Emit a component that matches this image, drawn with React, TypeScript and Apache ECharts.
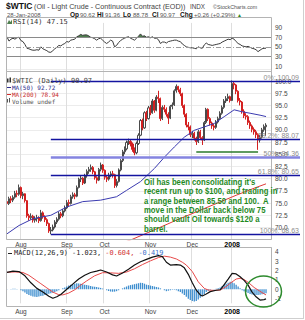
import React, { useEffect, useRef } from 'react';
import * as echarts from 'echarts';

// ---------- trading calendar (categories) ----------
const START = '2007-07-23';
const END = '2008-01-28';
const HOLIDAYS = ['2007-09-03', '2007-11-22', '2007-12-25', '2008-01-01', '2008-01-21'];
function tradingDays(start: string, end: string, holidays: string[]): string[] {
  const out: string[] = [];
  const d = new Date(start + 'T00:00:00Z');
  const e = new Date(end + 'T00:00:00Z');
  while (d <= e) {
    const s = d.toISOString().slice(0, 10);
    const wd = d.getUTCDay();
    if (wd !== 0 && wd !== 6 && !holidays.includes(s)) out.push(s);
    d.setUTCDate(d.getUTCDate() + 1);
  }
  return out;
}
const dates = tradingDays(START, END, HOLIDAYS); // 131 sessions
const categories = [...dates, '', '']; // right-hand blank space
const MONTHS = ['Jan', 'Feb', 'Mar', 'Apr', 'May', 'Jun', 'Jul', 'Aug', 'Sep', 'Oct', 'Nov', 'Dec'];

// ---------- price: [open, close, low, high] ----------
const ohlc: number[][] = [
  [75.3, 74.9, 74.3, 75.8], [74.9, 75.9, 74.6, 76.3], [75.9, 75.6, 75.0, 76.4], [75.6, 76.2, 75.2, 76.6],
  [76.2, 77.0, 75.9, 77.5], [77.0, 76.8, 76.2, 77.6], [76.8, 78.2, 76.5, 78.8], [78.2, 76.5, 76.0, 78.4],
  [76.5, 76.9, 75.8, 77.3], [76.9, 75.5, 75.1, 77.0], [75.5, 72.4, 72.0, 75.6], [72.4, 72.0, 71.4, 72.8],
  [72.0, 72.3, 71.6, 72.9], [72.3, 71.5, 71.0, 72.6], [71.5, 71.8, 71.0, 72.3], [71.8, 72.0, 71.2, 72.6],
  [72.0, 71.4, 70.9, 72.3], [71.4, 73.0, 71.2, 73.6], [73.0, 72.2, 71.8, 73.3], [72.2, 71.6, 71.1, 72.5],
  [71.6, 70.8, 70.3, 71.9], [70.8, 69.3, 68.9, 71.0], [69.3, 69.5, 68.63, 70.1], [69.5, 70.1, 69.2, 70.6],
  [70.1, 71.1, 69.8, 71.5], [71.1, 71.7, 70.7, 72.1], [71.7, 72.8, 71.4, 73.2], [72.8, 72.4, 71.9, 73.2],
  [72.4, 73.4, 72.1, 73.8], [73.4, 74.0, 73.1, 74.5], [74.0, 75.1, 73.8, 75.6], [75.1, 74.9, 74.3, 75.7],
  [74.9, 76.3, 74.7, 76.7], [76.3, 76.7, 75.9, 77.2], [76.7, 76.4, 75.8, 77.1], [76.4, 78.2, 76.2, 78.6],
  [78.2, 79.9, 78.0, 80.2], [79.9, 80.1, 79.3, 80.6], [80.1, 79.1, 78.7, 80.3], [79.1, 80.6, 78.9, 81.0],
  [80.6, 81.5, 80.2, 81.9], [81.5, 81.9, 81.0, 82.4], [81.9, 82.3, 81.4, 82.9], [82.3, 81.4, 80.9, 82.6],
  [81.4, 80.2, 79.8, 81.6], [80.2, 79.7, 79.0, 80.5], [79.7, 81.9, 79.5, 82.2], [81.9, 82.8, 81.5, 83.3],
  [82.8, 81.7, 81.2, 83.0], [81.7, 80.3, 79.8, 81.9], [80.3, 79.9, 79.3, 80.7], [79.9, 80.7, 79.6, 81.2],
  [80.7, 81.0, 80.3, 81.5], [81.0, 80.8, 80.2, 81.6], [80.8, 78.6, 78.1, 81.0], [78.6, 79.4, 78.2, 79.9],
  [79.4, 81.8, 79.2, 82.1], [81.8, 83.7, 81.5, 84.0], [83.7, 85.5, 83.4, 85.9], [85.5, 86.1, 85.0, 86.6],
  [86.1, 87.4, 85.8, 87.8], [87.4, 87.6, 86.9, 88.2], [87.6, 87.1, 86.6, 88.0], [87.1, 86.0, 85.5, 87.4],
  [86.0, 85.3, 84.8, 86.4], [85.3, 87.2, 85.0, 87.6], [87.2, 88.9, 86.9, 89.3], [88.9, 91.9, 88.7, 92.2],
  [91.9, 90.4, 89.9, 92.3], [90.4, 93.5, 90.2, 93.8], [93.5, 92.3, 91.8, 93.9], [92.3, 94.5, 92.1, 94.9],
  [94.5, 93.5, 93.0, 95.1], [93.5, 95.9, 93.3, 96.3], [95.9, 94.0, 93.5, 96.1], [94.0, 96.7, 93.8, 97.1],
  [96.7, 96.4, 95.5, 98.0], [96.4, 92.3, 91.8, 96.6], [92.3, 94.6, 92.0, 95.0], [94.6, 94.2, 93.6, 95.1],
  [94.2, 93.2, 92.7, 94.6], [93.2, 92.4, 91.2, 93.6], [92.4, 94.8, 92.2, 95.1], [94.8, 95.1, 94.2, 95.6],
  [95.1, 98.0, 94.9, 98.3], [98.0, 98.9, 97.6, 99.3], [98.9, 98.2, 97.7, 99.0], [98.2, 97.4, 96.9, 98.6],
  [97.4, 95.0, 94.5, 97.6], [95.0, 93.2, 92.6, 95.2], [93.2, 91.0, 90.5, 93.4], [91.0, 90.6, 89.9, 91.6],
  [90.6, 89.0, 88.5, 90.9], [89.0, 89.3, 88.3, 89.8], [89.3, 88.3, 87.8, 89.6], [88.3, 87.6, 86.9, 88.6],
  [87.6, 89.6, 87.3, 90.0], [89.6, 88.4, 87.9, 90.0], [88.4, 87.9, 86.9, 88.7], [87.9, 91.5, 87.7, 91.8],
  [91.5, 94.2, 91.2, 94.5], [94.2, 92.3, 91.8, 94.4], [92.3, 91.4, 90.9, 92.6], [91.4, 90.8, 90.2, 91.7],
  [90.8, 90.5, 89.9, 91.2], [90.5, 91.6, 90.2, 92.0], [91.6, 92.3, 91.3, 92.7], [92.3, 93.4, 92.0, 93.8],
  [93.4, 94.6, 93.1, 95.0], [94.6, 95.9, 94.3, 96.3], [95.9, 96.4, 95.5, 96.9], [96.4, 96.8, 95.9, 97.4],
  [96.8, 96.0, 95.6, 97.0], [96.0, 99.5, 95.9, 100.09], [99.5, 99.2, 98.3, 100.0], [99.2, 97.9, 97.3, 99.4],
  [97.9, 96.0, 95.6, 98.1], [96.0, 95.7, 95.0, 96.5], [95.7, 93.8, 93.3, 95.9], [93.8, 92.9, 92.4, 94.2],
  [92.9, 92.7, 92.1, 93.4], [92.7, 91.5, 91.0, 93.0], [91.5, 90.8, 90.2, 91.9], [90.8, 90.1, 89.5, 91.1],
  [90.1, 89.6, 89.0, 90.5], [89.6, 89.0, 88.3, 90.0], [89.0, 87.9, 85.9, 89.3], [87.9, 88.5, 87.4, 89.0],
  [88.5, 90.0, 88.2, 90.4], [90.0, 90.7, 89.6, 91.1], [90.62, 90.97, 88.78, 91.36],
];

// moving averages: [session index, value]
const ma50Pts: number[][] = [
  [0, 68.7], [6, 70.4], [13, 71.8], [22, 72.5], [30, 74.2], [38, 75.3], [47, 75.6], [55, 76.3], [60, 77.6],
  [67, 79.4], [74, 82.1], [79, 84.4], [84, 86.5], [89, 88.5], [94, 89.9], [99, 90.6], [104, 91.3],
  [109, 92.7], [114, 94.1], [118, 93.7], [122, 93.4], [127, 93.0], [130, 92.72],
];
const ma200Pts: number[][] = [
  [55, 66.4], [63, 67.6], [75, 69.7], [85, 71.5], [95, 73.2], [105, 74.9], [115, 76.6], [125, 78.2], [130, 78.94],
];

// RSI(14)
const rsi: number[] = [
  71, 62, 66, 68, 66, 69, 70, 63, 61, 55, 47, 46, 44, 43, 43, 44, 43, 50, 46, 44,
  42, 39, 38.6, 42, 46, 49, 53, 52, 55, 57, 61, 60, 64, 65, 66, 71, 73, 76, 74, 75,
  75, 73, 70, 69, 67, 64, 67, 68, 64, 60, 57, 60, 64, 62, 50, 53, 59, 63, 66, 68,
  70, 71, 68, 66, 64, 68, 72, 77, 72, 73, 70, 71, 69, 71, 68, 68, 65, 57, 60, 60,
  58, 61, 62, 63, 64, 64, 62, 61, 56, 53, 50, 49, 48, 48, 47, 46, 50, 48, 47, 54,
  58, 55, 54, 53, 54, 55, 56, 57, 60, 62, 64, 66, 65, 68, 66, 61, 57, 55, 52, 51,
  50, 51, 49, 47, 46, 44, 40, 43, 46, 47, 47.15,
];

// MACD(12,26,9)
const macdPts: number[][] = [
  [0, 1.82], [3, 1.95], [6, 1.9], [9, 1.45], [12, 0.7], [15, 0.1], [18, -0.3], [21, -0.75], [23, -0.96],
  [25, -0.8], [27, -0.55], [30, 0.0], [33, 0.55], [36, 1.1], [39, 1.5], [42, 1.8], [45, 1.95], [47, 2.07],
  [50, 1.85], [53, 1.55], [55, 1.43], [58, 1.75], [61, 2.15], [64, 2.6], [67, 2.95], [70, 3.2], [73, 3.45],
  [76, 3.6], [78, 3.5], [80, 2.9], [82, 2.6], [85, 2.65], [87, 2.6], [89, 2.3], [91, 1.6], [93, 0.7],
  [95, -0.1], [97, -0.6], [98, -0.72], [100, -0.5], [102, -0.25], [105, -0.1], [107, -0.05], [109, 0.5],
  [111, 1.1], [113, 1.71], [115, 1.65], [117, 1.35], [119, 0.95], [121, 0.45], [123, -0.3], [125, -0.8],
  [127, -1.15], [129, -1.1], [130, -1.023],
];
const signalPts: number[][] = [
  [0, 1.82], [4, 1.86], [8, 1.8], [11, 1.5], [14, 1.05], [17, 0.6], [20, 0.15], [23, -0.3], [26, -0.58],
  [28, -0.6], [31, -0.4], [34, -0.05], [37, 0.45], [40, 0.9], [44, 1.45], [48, 1.78], [52, 1.76], [56, 1.71],
  [60, 1.85], [64, 2.2], [68, 2.65], [72, 3.05], [76, 3.4], [79, 3.55], [82, 3.45], [85, 3.25], [88, 2.9],
  [90, 2.6], [93, 1.9], [96, 0.8], [99, 0.1], [101, -0.08], [104, -0.12], [107, -0.08], [110, 0.3],
  [112, 0.64], [115, 1.1], [117, 1.18], [119, 1.05], [121, 0.75], [124, 0.2], [126, -0.08], [128, -0.35],
  [130, -0.604],
];
const histogram: number[] = [
  0.02, 0.0, 0.04, 0.06, 0.05, 0.03, 0.01,
  -0.1, -0.2, -0.35, -0.5, -0.6, -0.7,
  -0.78, -0.8, -0.82, -0.78, -0.72, -0.68, -0.62, -0.55,
  -0.48, -0.42, -0.36, -0.28, -0.2, -0.1, 0.0,
  0.1, 0.2, 0.3, 0.4, 0.5, 0.55, 0.6, 0.64, 0.62, 0.6, 0.55, 0.5, 0.45,
  0.4, 0.35, 0.3, 0.28, 0.25, 0.2, 0.15, 0.08,
  0.0, -0.1, -0.18, -0.24, -0.26, -0.25, -0.2, -0.1,
  0.0, 0.1, 0.2, 0.3, 0.4, 0.45, 0.5, 0.55,
  0.6, 0.65, 0.7, 0.68, 0.6, 0.5, 0.45, 0.4,
  0.35, 0.3, 0.25, 0.2, 0.1, 0.0, -0.1, -0.2,
  -0.15, -0.1, -0.05, -0.05, -0.1, -0.2, -0.3, -0.45,
  -0.6, -0.8, -1.0, -1.15, -1.25, -1.3, -1.25, -1.1,
  -0.9, -0.7, -0.5, -0.3, -0.15, -0.05,
  0.0, 0.02, 0.05, 0.1, 0.2, 0.35,
  0.5, 0.6, 0.7, 0.8, 0.75, 0.65, 0.5, 0.3,
  0.1, -0.1, -0.2, -0.3, -0.4, -0.5, -0.55, -0.6,
  -0.62, -0.6, -0.58, -0.52, -0.47, -0.419,
];

// Fibonacci retracement from the Aug low to the Jan high
const fibLabels = ['0%', '38.2%', '50%', '61.8%', '100%'];
const fibValues = [100.09, 88.07, 84.36, 80.65, 68.63];
const fibAnchorIndex = 22; // session of the swing low
const supportLevel = 85.6;
const supportFrom = 95;
const supportTo = 126;

const noteLines = [
  "Oil has been consolidating it's",
  'recent run up to $100, and trading in',
  'a range between 85.50 and 100.  A',
  'move in the Dollar back below 75',
  'should vault Oil towards $120 a',
  'barrel.',
];

const SANS = '"Liberation Sans", Arial, sans-serif';
const MONO = '"DejaVu Sans Mono", monospace';

const isMonthStart = (i: number) =>
  i > 0 && i < dates.length && dates[i].slice(5, 7) !== dates[i - 1].slice(5, 7);

const monthFormatter = (v: string) => {
  if (!v) return '';
  const m = +v.slice(5, 7);
  return m === 1 ? '{y|' + v.slice(0, 4) + '}' : MONTHS[m - 1];
};

const toNamed = (pts: number[][]) => pts.map(([i, v]) => [dates[i], v]);

const L = 6;
const W = 265;

function xAxisFor(gridIndex: number, showLabels: boolean, margin: number) {
  return {
    type: 'category',
    gridIndex,
    data: categories,
    boundaryGap: true,
    axisLine: { show: false },
    axisTick: { show: false },
    axisLabel: {
      show: showLabels,
      interval: (idx: number) => isMonthStart(idx),
      formatter: monthFormatter,
      margin,
      fontFamily: SANS,
      fontSize: 6.5,
      color: '#444',
      rich: { y: { fontFamily: SANS, fontSize: 7, fontWeight: 'bold', color: '#000' } },
    },
    splitLine: {
      show: true,
      interval: (idx: number) => isMonthStart(idx),
      lineStyle: { color: '#dedede', width: 1 },
    },
  };
}

function yLabel(formatter: (v: number) => string) {
  return { margin: 4, fontFamily: SANS, fontSize: 6.5, color: '#444', formatter };
}

export default function App() {
  const ref = useRef<HTMLDivElement>(null);

  useEffect(() => {
    if (!ref.current) return;
    const chart = echarts.init(ref.current, undefined, { renderer: 'svg' });

    const option: any = {
      animation: false,
      backgroundColor: '#ffffff',
      grid: [
        { left: L, width: W, top: 22.9, height: 47.9 },
        { left: L, width: W, top: 68.8, height: 170.9 },
        { left: L, width: W, top: 247.3, height: 56 },
      ],
      xAxis: [xAxisFor(0, false, 2), xAxisFor(1, true, 1), xAxisFor(2, true, 5)],
      yAxis: [
        {
          type: 'value', gridIndex: 0, position: 'right', min: 0, max: 100, interval: 10,
          axisLine: { show: false }, axisTick: { show: false }, splitLine: { show: false },
          axisLabel: yLabel((v) => (v % 20 === 10 ? String(v) : '')),
        },
        {
          type: 'value', gridIndex: 1, position: 'right', min: 67.5, max: 102.5, interval: 2.5,
          axisLine: { show: false }, axisTick: { show: false },
          splitLine: { show: true, lineStyle: { color: '#ececec' } },
          axisLabel: yLabel((v) => (v >= 70 && v <= 100 ? v.toFixed(1) : '')),
        },
        {
          type: 'value', gridIndex: 2, position: 'right', min: -1.5, max: 4.5, interval: 0.5,
          axisLine: { show: false }, axisTick: { show: false }, splitLine: { show: false },
          axisLabel: yLabel((v) => (Number.isInteger(v) && v < 4.5 ? String(v) : '')),
        },
      ],
      series: [
        {
          type: 'line', xAxisIndex: 0, yAxisIndex: 0, stack: 'rsi', symbol: 'none', silent: true,
          data: rsi.map((v) => Math.min(v, 70)), lineStyle: { opacity: 0 },
        },
        {
          type: 'line', xAxisIndex: 0, yAxisIndex: 0, stack: 'rsi', symbol: 'none', silent: true,
          data: rsi.map((v) => Math.max(v - 70, 0)), lineStyle: { opacity: 0 },
          areaStyle: { color: '#4f7f4f', opacity: 1 },
        },
        {
          type: 'line', xAxisIndex: 0, yAxisIndex: 0, symbol: 'none', data: rsi,
          lineStyle: { color: '#3a3a3a', width: 1 },
          markLine: {
            silent: true, symbol: 'none', label: { show: false },
            data: [
              { yAxis: 70, lineStyle: { color: '#8a8a8a', type: 'solid', width: 1 } },
              { yAxis: 30, lineStyle: { color: '#8a8a8a', type: 'solid', width: 1 } },
              { yAxis: 50, lineStyle: { color: '#9a9a9a', type: [5, 2, 1, 2], width: 1 } },
            ],
          },
        },
        {
          type: 'candlestick', xAxisIndex: 1, yAxisIndex: 1, data: ohlc, barWidth: 1.6,
          itemStyle: {
            color: '#ffffff', color0: '#d42020',
            borderColor: '#4a4a4a', borderColor0: '#d42020', borderWidth: 1,
          },
          markLine: {
            silent: true, symbol: 'none', label: { show: false },
            lineStyle: { color: '#2a7a2a', width: 1.5, type: 'solid' },
            data: [[
              { coord: [dates[supportFrom], supportLevel] },
              { coord: [dates[supportTo], supportLevel] },
            ]],
          },
        },
        {
          type: 'line', xAxisIndex: 1, yAxisIndex: 1, symbol: 'none', data: toNamed(ma50Pts),
          lineStyle: { color: '#3b3bb0', width: 1 },
        },
        {
          type: 'line', xAxisIndex: 1, yAxisIndex: 1, symbol: 'none', data: toNamed(ma200Pts),
          lineStyle: { color: '#e03a3a', width: 1 },
        },
        {
          type: 'bar', xAxisIndex: 2, yAxisIndex: 2, data: histogram, barWidth: 1.3,
          itemStyle: { color: '#3f8fcf' },
        },
        {
          type: 'line', xAxisIndex: 2, yAxisIndex: 2, symbol: 'none', data: toNamed(signalPts),
          lineStyle: { color: '#e84a4a', width: 1 },
        },
        {
          type: 'line', xAxisIndex: 2, yAxisIndex: 2, symbol: 'none', data: toNamed(macdPts),
          lineStyle: { color: '#111111', width: 1.2 },
        },
      ],
    };
    chart.setOption(option);

    // ----- overlay graphics positioned through the price axes -----
    const xLow = chart.convertToPixel({ xAxisIndex: 1 }, dates[fibAnchorIndex]) as number;
    const yOf = (v: number) => chart.convertToPixel({ yAxisIndex: 1 }, v) as number;

    const txt = (text: string, x: number, y: number, font: string, fill: string, extra: any = {}) => {
      const a = extra.align ?? 'left';
      return {
        type: 'text', x, y, silent: true, z: 60,
        scaleX: extra.scaleX ?? 1,
        style: {
          text, x: 0, y: 0, font, fill,
          align: a, verticalAlign: 'middle',
          textAlign: a, textVerticalAlign: 'middle',
        },
      };
    };

    const els: any[] = [];
    // panel frames
    const frame = (y: number, h: number) => ({
      type: 'rect', silent: true, z: 55,
      shape: { x: L + 0.5, y: y + 0.5, width: W, height: h },
      style: { fill: 'none', stroke: '#b4b4b4', lineWidth: 1 },
    });
    els.push(frame(17, 54), frame(71, 168), frame(247, 59));
    els.push({ type: 'line', silent: true, z: 55, shape: { x1: 303.5, y1: 0, x2: 303.5, y2: 318 }, style: { stroke: '#cfcfcf' } });
    els.push({ type: 'line', silent: true, z: 55, shape: { x1: 0, y1: 318.5, x2: 304, y2: 318.5 }, style: { stroke: '#cfcfcf' } });

    // header
    els.push(txt('$WTIC', 6, 6, `bold 8.5px ${SANS}`, '#111'));
    els.push(txt('(Oil - Light Crude - Continuous Contract (EOD))', 34, 6.5, `7.2px ${SANS}`, '#444'));
    els.push(txt('INDX', 190, 6.5, `6.3px ${SANS}`, '#444'));
    els.push(txt('\u00A9StockCharts.com', 213, 6.5, `5.3px ${SANS}`, '#555'));
    els.push(txt('28-Jan-2008', 7, 14.7, `6px ${SANS}`, '#555'));
    const hdr: [string, number, string, number][] = [
      ['Op', 70, '90.62', 80], ['Hi', 97, '91.36', 105], ['Lo', 123, '88.78', 133],
      ['Cl', 152, '90.97', 160], ['Chg', 180, '+0.26 (+0.29%)', 194],
    ];
    hdr.forEach(([k, kx, v, vx]) => {
      els.push(txt(k, kx, 14.7, `bold 6.5px ${SANS}`, '#111'));
      els.push(txt(v, vx, 14.7, `6px ${SANS}`, '#555'));
    });
    els.push(txt('\u25B2', 237, 14.5, `5px ${SANS}`, '#2a8a2a'));

    // RSI legend
    els.push({ type: 'polygon', silent: true, z: 60, shape: { points: [[7, 24], [9, 20], [10.5, 22], [12, 19.5], [12, 24]] }, style: { fill: '#4f7f4f' } });
    els.push(txt('RSI(14) 47.15', 13, 21.7, `7px ${MONO}`, '#333'));

    // price legend
    els.push({ type: 'rect', silent: true, z: 60, shape: { x: 7, y: 78.5, width: 1.5, height: 4 }, style: { fill: '#333' } });
    els.push({ type: 'rect', silent: true, z: 60, shape: { x: 9.5, y: 77.5, width: 1.5, height: 5 }, style: { fill: '#333' } });
    els.push(txt('$WTIC (Daily) 90.97', 12, 80.6, `7px ${MONO}`, '#444'));
    els.push({ type: 'line', silent: true, z: 60, shape: { x1: 7, y1: 87.5, x2: 11, y2: 87.5 }, style: { stroke: '#2a2a8a', lineWidth: 1 } });
    els.push(txt('MA(50) 92.72', 12, 87.4, `6px ${MONO}`, '#2a2a8a'));
    els.push({ type: 'line', silent: true, z: 60, shape: { x1: 7, y1: 94.5, x2: 11, y2: 94.5 }, style: { stroke: '#d42a2a', lineWidth: 1 } });
    els.push(txt('MA(200) 78.94', 12, 94.4, `6px ${MONO}`, '#c82a2a'));
    els.push({ type: 'rect', silent: true, z: 60, shape: { x: 7, y: 99, width: 1, height: 3.5 }, style: { fill: '#555' } });
    els.push({ type: 'rect', silent: true, z: 60, shape: { x: 9, y: 98, width: 1, height: 4.5 }, style: { fill: '#555' } });
    els.push(txt('Volume undef', 12, 101.3, `6px ${MONO}`, '#555'));

    // fib retracement lines + labels
    fibValues.forEach((v, k) => {
      const y = Math.round(yOf(v)) + 0.5;
      const mid = fibLabels[k] === '50%';
      els.push({
        type: 'line', silent: true, z: 58,
        shape: { x1: xLow, y1: y, x2: 300, y2: y },
        style: { stroke: mid ? '#8484e0' : '#1414a0', lineWidth: mid ? 2.5 : 1.4 },
      });
      els.push(txt(`${fibLabels[k]}: ${v.toFixed(2)}`, 299, y - 4.5, `7px ${SANS}`, '#8c8c8c', { align: 'right' }));
    });

    // annotation
    noteLines.forEach((line, k) => {
      els.push(txt(line, 144, 181.8 + k * 9.35, `bold 9px ${SANS}`, '#1f8a1f', { scaleX: 0.86 }));
    });

    // MACD legend
    els.push({ type: 'line', silent: true, z: 60, shape: { x1: 8, y1: 253.5, x2: 12, y2: 253.5 }, style: { stroke: '#222', lineWidth: 1 } });
    els.push({
      type: 'text', x: 14, y: 253.3, silent: true, z: 60,
      style: {
        text: '{a|MACD(12,26,9) -1.023, }{b|-0.604, }{c|-0.419}',
        x: 0, y: 0, verticalAlign: 'middle', textVerticalAlign: 'middle', font: `6.9px ${MONO}`,
        rich: {
          a: { fill: '#222', font: `6.9px ${MONO}` },
          b: { fill: '#d03030', font: `6.9px ${MONO}` },
          c: { fill: '#3a6fc8', font: `6.9px ${MONO}` },
        },
      },
    });

    // highlight circle
    els.push({
      type: 'ellipse', silent: true, z: 62,
      shape: { cx: 263.5, cy: 291.5, rx: 18, ry: 15.5 },
      style: { fill: 'none', stroke: '#2e8b2e', lineWidth: 1.5 },
    });

    chart.setOption({ graphic: { elements: els } });

    return () => chart.dispose();
  }, []);

  return <div ref={ref} style={{ position: 'fixed', left: 0, top: 0, width: 305, height: 320 }} />;
}
